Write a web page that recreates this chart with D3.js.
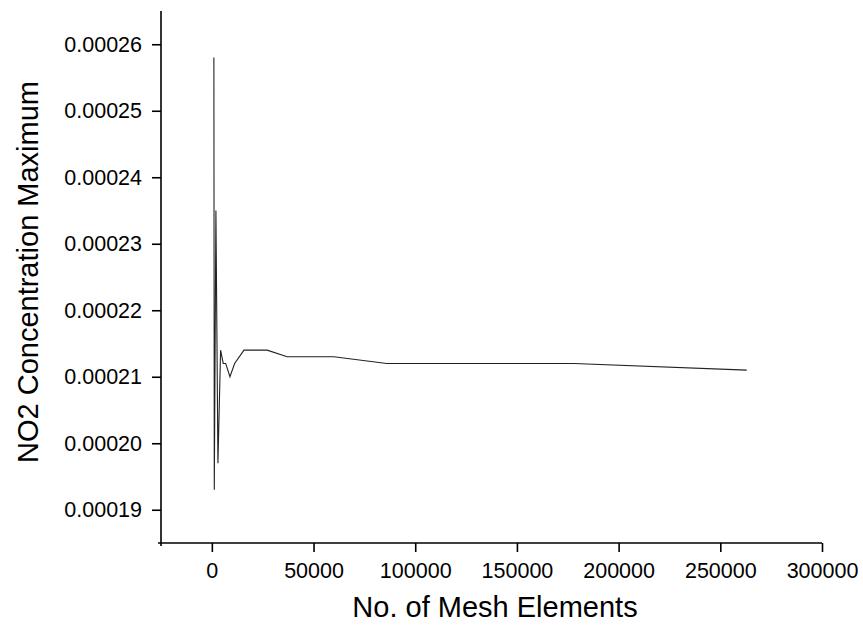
<!DOCTYPE html>
<html>
<head>
<meta charset="utf-8">
<script src="https://cdn.jsdelivr.net/npm/d3@7"></script>
<style>
  html, body { margin: 0; padding: 0; background: #fff; }
  svg { display: block; }
  text { font-family: "Liberation Sans", Arial, sans-serif; fill: #000; }
</style>
</head>
<body>
<svg id="chart" width="863" height="628"></svg>
<script>
// Data
const meshElements = [1000, 1200, 2000, 3000, 4300, 5600, 6800, 8900, 11200, 15800, 27200, 37000, 60000, 86000, 178000, 263000];
const no2Maximum   = [0.000258, 0.000193, 0.000235, 0.000197, 0.000214, 0.000212, 0.000212, 0.000210, 0.000212, 0.000214, 0.000214, 0.000213, 0.000213, 0.000212, 0.000212, 0.000211];
const xTickValues = [0, 50000, 100000, 150000, 200000, 250000, 300000];
const yTickValues = [0.00019, 0.00020, 0.00021, 0.00022, 0.00023, 0.00024, 0.00025, 0.00026];
const xMinorTicks = [-25000, 25000, 75000, 125000, 175000, 225000, 275000];
const yMinorTicks = [0.000185, 0.000195, 0.000205, 0.000215, 0.000225, 0.000235, 0.000245, 0.000255, 0.000265];
const xTitle = "No. of Mesh Elements";
const yTitle = "NO2 Concentration Maximum";

const svg = d3.select("#chart");
const mLeft = 161, mRight = 822, mTop = 11, mBottom = 543;

const x = d3.scaleLinear().domain([-25000, 300000]).range([mLeft, mRight]);
const y = d3.scaleLinear().domain([0.000185, 0.000265]).range([mBottom, mTop]);

const tickFont = 21.5;

// X axis
const gx = svg.append("g").attr("transform", `translate(0,${mBottom})`);
gx.call(d3.axisBottom(x).tickValues(xMinorTicks).tickSize(5).tickFormat(""));
gx.call(d3.axisBottom(x).tickValues(xTickValues).tickSize(9).tickPadding(11).tickFormat(d3.format("d")));
gx.selectAll(".domain").attr("stroke", "#000").attr("stroke-width", 1.6).attr("d", `M${mLeft - 3},0H${mRight}`);
gx.selectAll(".tick line").attr("stroke", "#000").attr("stroke-width", 1.6);
gx.selectAll("text").style("font-size", tickFont + "px").attr("fill", "#000");

// Y axis
const gy = svg.append("g").attr("transform", `translate(${mLeft},0)`);
gy.call(d3.axisLeft(y).tickValues(yMinorTicks).tickSize(5).tickFormat(""));
gy.call(d3.axisLeft(y).tickValues(yTickValues).tickSize(9).tickPadding(10).tickFormat(d3.format(".5f")));
gy.selectAll(".domain").attr("stroke", "#000").attr("stroke-width", 1.6).attr("d", `M0,${mTop}V${mBottom + 3}`);
gy.selectAll(".tick line").attr("stroke", "#000").attr("stroke-width", 1.6);
gy.selectAll("text").style("font-size", tickFont + "px").attr("fill", "#000");

// Line
const pts = meshElements.map((m, i) => [m, no2Maximum[i]]);
svg.append("path")
  .datum(pts)
  .attr("fill", "none")
  .attr("stroke", "#222")
  .attr("stroke-width", 1.1)
  .attr("stroke-linejoin", "miter")
  .attr("d", d3.line().x(d => x(d[0])).y(d => y(d[1])));

// Titles
svg.append("text")
  .attr("x", 495)
  .attr("y", 617)
  .attr("text-anchor", "middle")
  .style("font-size", "29px")
  .text(xTitle);

svg.append("text")
  .attr("transform", `translate(38,272) rotate(-90)`)
  .attr("text-anchor", "middle")
  .style("font-size", "29px")
  .text(yTitle);
</script>
</body>
</html>
